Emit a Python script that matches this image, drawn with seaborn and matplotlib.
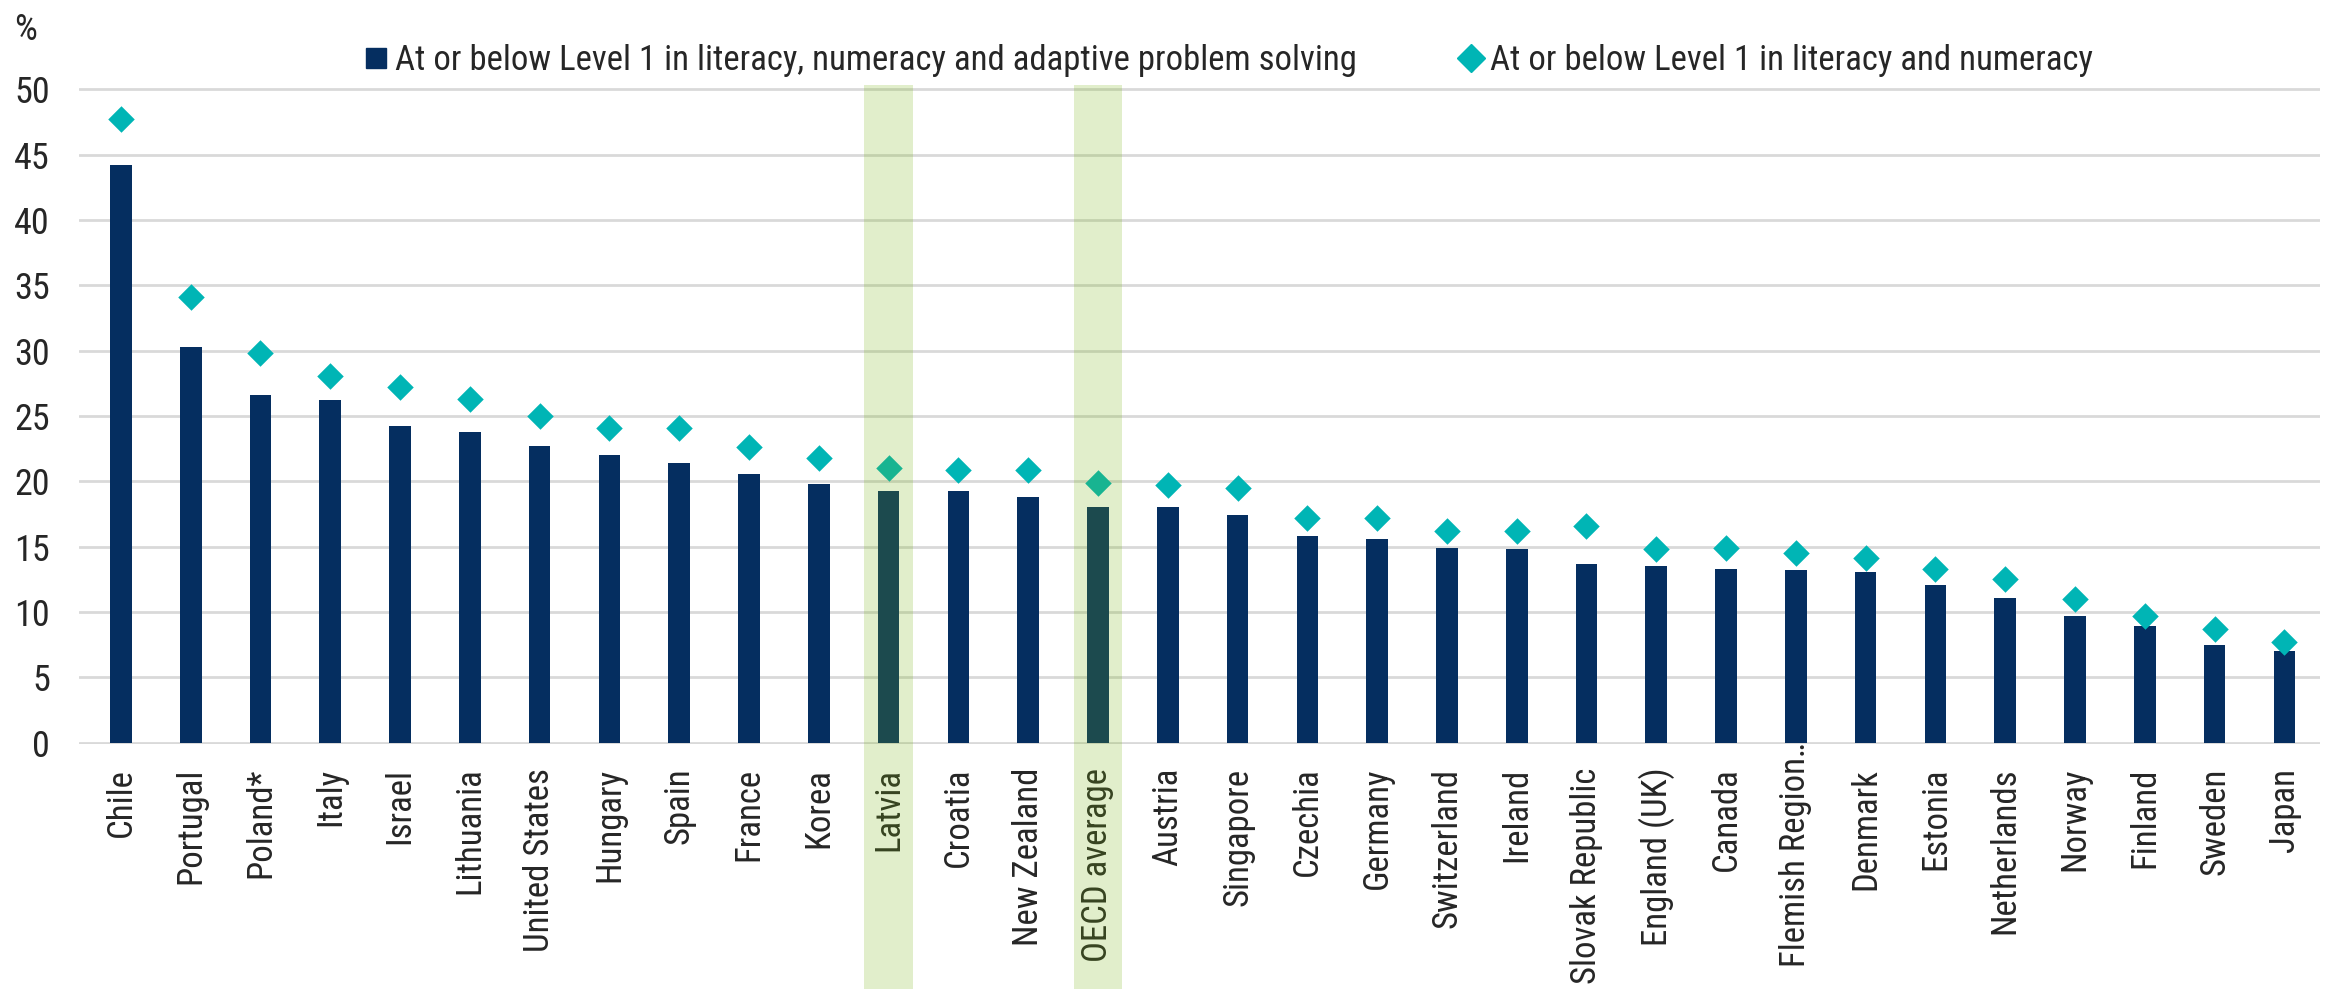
import matplotlib
matplotlib.use("Agg")
import matplotlib.pyplot as plt
import matplotlib.font_manager as fm
from matplotlib.lines import Line2D
import seaborn as sns

# Data
countries = ["Chile", "Portugal", "Poland*", "Italy", "Israel", "Lithuania", "United States",
             "Hungary", "Spain", "France", "Korea", "Latvia", "Croatia", "New Zealand",
             "OECD average", "Austria", "Singapore", "Czechia", "Germany", "Switzerland",
             "Ireland", "Slovak Republic", "England (UK)", "Canada", "Flemish Region…",
             "Denmark", "Estonia", "Netherlands", "Norway", "Finland", "Sweden", "Japan"]
all_three = [44.2, 30.3, 26.6, 26.2, 24.2, 23.8, 22.7, 22.0, 21.4, 20.6, 19.8, 19.3, 19.3, 18.8,
             18.0, 18.0, 17.4, 15.8, 15.6, 14.9, 14.8, 13.7, 13.5, 13.3, 13.2, 13.1, 12.1, 11.1,
             9.7, 8.9, 7.5, 7.0]
lit_num = [47.7, 34.1, 29.8, 28.1, 27.2, 26.3, 25.0, 24.1, 24.1, 22.6, 21.8, 21.0, 20.9, 20.9,
           19.9, 19.7, 19.5, 17.2, 17.2, 16.2, 16.2, 16.6, 14.8, 14.9, 14.5, 14.1, 13.3, 12.5,
           11.0, 9.7, 8.7, 7.7]
highlight = ["Latvia", "OECD average"]

navy = "#052e60"
teal = "#00b5b5"

sns.set_style("white")
# narrow font close to Arial Narrow, whichever is installed
names = {f.name for f in fm.fontManager.ttflist}
family, fs = "Liberation Sans", 21
for cand in ["Liberation Sans Narrow", "Arial Narrow", "Roboto Condensed", "PT Sans Narrow", "Archivo Narrow"]:
    if cand in names:
        family, fs = cand, 25
        break
plt.rcParams["font.family"] = [family, "DejaVu Sans"]

fig = plt.figure(figsize=(23.38, 9.89), dpi=100)
ax = fig.add_axes([0.0338, 0.2477, 0.9585, 0.6633])

sns.barplot(x=countries, y=all_three, color=navy, saturation=1, width=0.31,
            linewidth=0, ax=ax, zorder=2)
sns.stripplot(x=countries, y=lit_num, color=teal, marker="D", size=13.5, jitter=False,
              linewidth=0, ax=ax, zorder=3)

ax.set_xlim(-0.6, len(countries) - 0.49)
ax.set_ylim(-0.1, 50.1)
ax.set_yticks(range(0, 51, 5))
ax.yaxis.grid(True, color="#d9d9d9", lw=2)
ax.set_axisbelow(True)
sns.despine(ax=ax, left=True, bottom=True)
ax.tick_params(axis="y", length=0, pad=21, labelsize=fs + 1)
ax.tick_params(axis="x", length=0, pad=17, labelsize=fs, labelrotation=90)
ax.set_xlabel("")
ax.set_ylabel("")

# the long Flemish label sits higher, reaching into the plot like in the original
ax.xaxis.get_major_ticks()[countries.index("Flemish Region…")].set_pad(-5)

# green highlight bands drawn over the bars and labels
for name in highlight:
    i = countries.index(name)
    ax.axvspan(i - 0.35, i + 0.35, ymin=-0.4, ymax=1.004, color="#75b30c", alpha=0.21,
               lw=0, clip_on=False, zorder=10)

fig.text(0.006, 0.97, "%", fontsize=fs + 1, va="center", ha="left")

handles = [
    Line2D([], [], marker="s", color=navy, linestyle="none", markersize=15),
    Line2D([], [], marker="D", color=teal, linestyle="none", markersize=14),
]
labels = ["At or below Level 1 in literacy, numeracy and adaptive problem solving",
          "At or below Level 1 in literacy and numeracy"]
fig.legend(handles, labels, loc="center", bbox_to_anchor=(0.525, 0.939), ncol=2,
           frameon=False, fontsize=fs, handletextpad=0.15, columnspacing=2.9,
           handlelength=0.8)

fig.savefig("out.png", dpi=100)
